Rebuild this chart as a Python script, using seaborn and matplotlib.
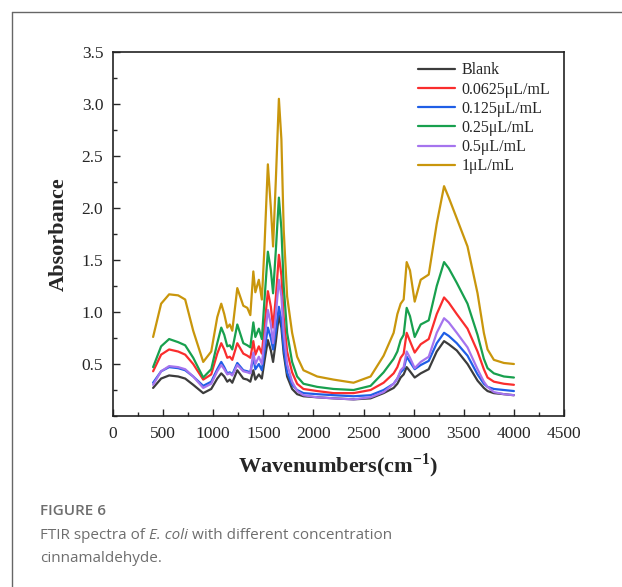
import pandas as pd
import numpy as np
import matplotlib
matplotlib.use('Agg')
import matplotlib.pyplot as plt
from matplotlib.ticker import MultipleLocator
from matplotlib.lines import Line2D
import seaborn as sns

# wavenumbers (cm-1)
wavenumber = [400, 480, 560, 650, 720, 800, 900, 980, 1040, 1080, 1110, 1140, 1165, 1190,
              1240, 1300, 1340, 1370, 1400, 1420, 1455, 1485, 1510, 1545, 1575, 1597, 1625,
              1655, 1680, 1703, 1737, 1787, 1837, 1900, 2037, 2200, 2400, 2570, 2700, 2800,
              2837, 2870, 2900, 2930, 2963, 3010, 3070, 3150, 3230, 3303, 3350, 3430, 3537,
              3637, 3700, 3737, 3800, 3900, 4000]

blank = [0.27, 0.36, 0.39, 0.38, 0.36, 0.30, 0.22, 0.26, 0.36, 0.41, 0.38, 0.33, 0.35, 0.32,
         0.44, 0.36, 0.35, 0.33, 0.44, 0.35, 0.40, 0.36, 0.52, 0.73, 0.63, 0.52, 0.72,
         0.97, 0.85, 0.60, 0.38, 0.26, 0.21, 0.19, 0.18, 0.17, 0.16, 0.17, 0.22, 0.27,
         0.31, 0.37, 0.40, 0.47, 0.43, 0.37, 0.41, 0.45, 0.62, 0.72, 0.69, 0.63, 0.50,
         0.34, 0.27, 0.24, 0.22, 0.21, 0.20]

c0625 = [0.43, 0.59, 0.64, 0.62, 0.59, 0.50, 0.35, 0.40, 0.60, 0.70, 0.64, 0.56, 0.57, 0.54,
         0.70, 0.60, 0.58, 0.56, 0.72, 0.59, 0.67, 0.60, 0.85, 1.20, 1.05, 0.85, 1.15,
         1.55, 1.35, 0.95, 0.62, 0.42, 0.31, 0.26, 0.24, 0.22, 0.22, 0.25, 0.32, 0.41,
         0.47, 0.56, 0.60, 0.80, 0.72, 0.61, 0.69, 0.74, 0.98, 1.14, 1.09, 0.98, 0.84,
         0.62, 0.45, 0.37, 0.33, 0.31, 0.30]

c125 = [0.32, 0.43, 0.47, 0.46, 0.44, 0.38, 0.29, 0.33, 0.45, 0.52, 0.47, 0.41, 0.42, 0.40,
        0.51, 0.44, 0.43, 0.42, 0.56, 0.45, 0.50, 0.44, 0.62, 0.85, 0.75, 0.64, 0.82,
        1.05, 0.92, 0.65, 0.42, 0.30, 0.25, 0.22, 0.21, 0.20, 0.19, 0.20, 0.25, 0.31,
        0.36, 0.42, 0.45, 0.57, 0.52, 0.45, 0.49, 0.53, 0.70, 0.80, 0.77, 0.70, 0.58,
        0.40, 0.31, 0.28, 0.26, 0.25, 0.24]

c25 = [0.47, 0.67, 0.74, 0.71, 0.68, 0.56, 0.37, 0.45, 0.70, 0.85, 0.78, 0.67, 0.68, 0.64,
       0.88, 0.70, 0.68, 0.66, 0.90, 0.76, 0.84, 0.74, 1.10, 1.58, 1.40, 1.18, 1.60,
       2.10, 1.80, 1.25, 0.80, 0.52, 0.38, 0.31, 0.28, 0.26, 0.25, 0.29, 0.42, 0.55,
       0.62, 0.73, 0.78, 1.04, 0.96, 0.76, 0.88, 0.92, 1.25, 1.48, 1.42, 1.28, 1.08,
       0.78, 0.55, 0.46, 0.41, 0.38, 0.37]

c5 = [0.30, 0.43, 0.48, 0.47, 0.45, 0.38, 0.27, 0.31, 0.43, 0.49, 0.45, 0.40, 0.41, 0.39,
      0.49, 0.43, 0.42, 0.41, 0.61, 0.50, 0.57, 0.50, 0.72, 1.02, 0.88, 0.70, 0.98,
      1.31, 1.15, 0.80, 0.50, 0.33, 0.24, 0.20, 0.18, 0.17, 0.16, 0.18, 0.23, 0.31,
      0.36, 0.44, 0.47, 0.62, 0.56, 0.46, 0.52, 0.57, 0.80, 0.94, 0.90, 0.80, 0.66,
      0.45, 0.33, 0.28, 0.23, 0.21, 0.20]

c1 = [0.76, 1.08, 1.17, 1.16, 1.12, 0.82, 0.52, 0.62, 0.95, 1.08, 0.98, 0.85, 0.88, 0.82,
      1.23, 1.06, 1.04, 0.97, 1.39, 1.19, 1.31, 1.12, 1.60, 2.42, 2.00, 1.63, 2.28,
      3.05, 2.66, 1.79, 1.15, 0.80, 0.57, 0.44, 0.38, 0.35, 0.32, 0.38, 0.58, 0.80,
      0.98, 1.08, 1.12, 1.48, 1.40, 1.10, 1.31, 1.36, 1.85, 2.21, 2.10, 1.90, 1.63,
      1.18, 0.80, 0.64, 0.54, 0.51, 0.50]

labels = ['Blank', '0.0625\u03bcL/mL', '0.125\u03bcL/mL', '0.25\u03bcL/mL', '0.5\u03bcL/mL', '1\u03bcL/mL']
series = [blank, c0625, c125, c25, c5, c1]
colors = ['#3c3c3c', '#fa2d2d', '#1f5ee6', '#18a04e', '#a574ee', '#c9960c']

df = pd.concat([pd.DataFrame({'wn': wavenumber, 'abs': s, 'sample': lab})
                for s, lab in zip(series, labels)], ignore_index=True)

sns.set_style('ticks')
plt.rcParams['font.family'] = ['Liberation Serif', 'DejaVu Serif']
plt.rcParams['mathtext.fontset'] = 'custom'
plt.rcParams['mathtext.rm'] = 'Liberation Serif'
plt.rcParams['mathtext.bf'] = 'Liberation Serif:bold'

fig = plt.figure(figsize=(6.22, 5.87), dpi=100)
ax = fig.add_axes([0.1817, 0.2913, 0.7251, 0.6201])

sns.lineplot(data=df, x='wn', y='abs', hue='sample', hue_order=labels,
             palette=colors, linewidth=1.6, ax=ax, sort=False)

ax.set_xlim(0, 4500)
ax.set_ylim(0, 3.5)
ax.set_xticks(np.arange(0, 4501, 500))
ax.set_yticks([0.5, 1.0, 1.5, 2.0, 2.5, 3.0, 3.5])
ax.xaxis.set_minor_locator(MultipleLocator(250))
ax.yaxis.set_minor_locator(MultipleLocator(0.25))
ax.tick_params(which='major', direction='in', length=5, width=1, labelsize=12.5, pad=7,
               top=False, right=False)
ax.tick_params(which='minor', direction='in', length=3, width=1, top=False, right=False)
for sp in ax.spines.values():
    sp.set_linewidth(1.2)
    sp.set_color('#222222')

ax.set_xlabel('Wavenumbers(cm$^{\\mathbf{-1}}$)', fontsize=16, fontweight='bold', labelpad=7)
ax.set_ylabel('Absorbance', fontsize=16, fontweight='bold', labelpad=9)

leg = ax.legend(loc='upper right', frameon=False, fontsize=11.5, handlelength=2.3,
                handletextpad=0.4, labelspacing=0.2, borderaxespad=0.2,
                bbox_to_anchor=(0.99, 0.998))
for line in leg.get_lines():
    line.set_linewidth(1.6)

# page frame
fig.add_artist(Line2D([12 / 622, 12 / 622], [0, 1 - 12 / 587], color='#666666', lw=1,
                      transform=fig.transFigure))
fig.add_artist(Line2D([12 / 622, 1], [1 - 12 / 587, 1 - 12 / 587], color='#666666', lw=1,
                      transform=fig.transFigure))

# caption, the species name set in italics
cap_font = ['Open Sans', 'DejaVu Sans']
cap_kw = dict(fontsize=11, color='#6e6e6e', family=cap_font, va='baseline')
fig.text(40 / 622, 1 - 515 / 587, 'FIGURE 6', fontweight='semibold', **cap_kw)

renderer = fig.canvas.get_renderer()
x = 40
y = 1 - 539 / 587
for part, style in [('FTIR spectra of ', 'normal'), ('E. coli', 'italic'),
                    (' with different concentration', 'normal')]:
    t = fig.text(x / 622, y, part, style=style, **cap_kw)
    x += t.get_window_extent(renderer).width
fig.text(40 / 622, 1 - 562 / 587, 'cinnamaldehyde.', **cap_kw)

fig.savefig('out.png', dpi=100)
